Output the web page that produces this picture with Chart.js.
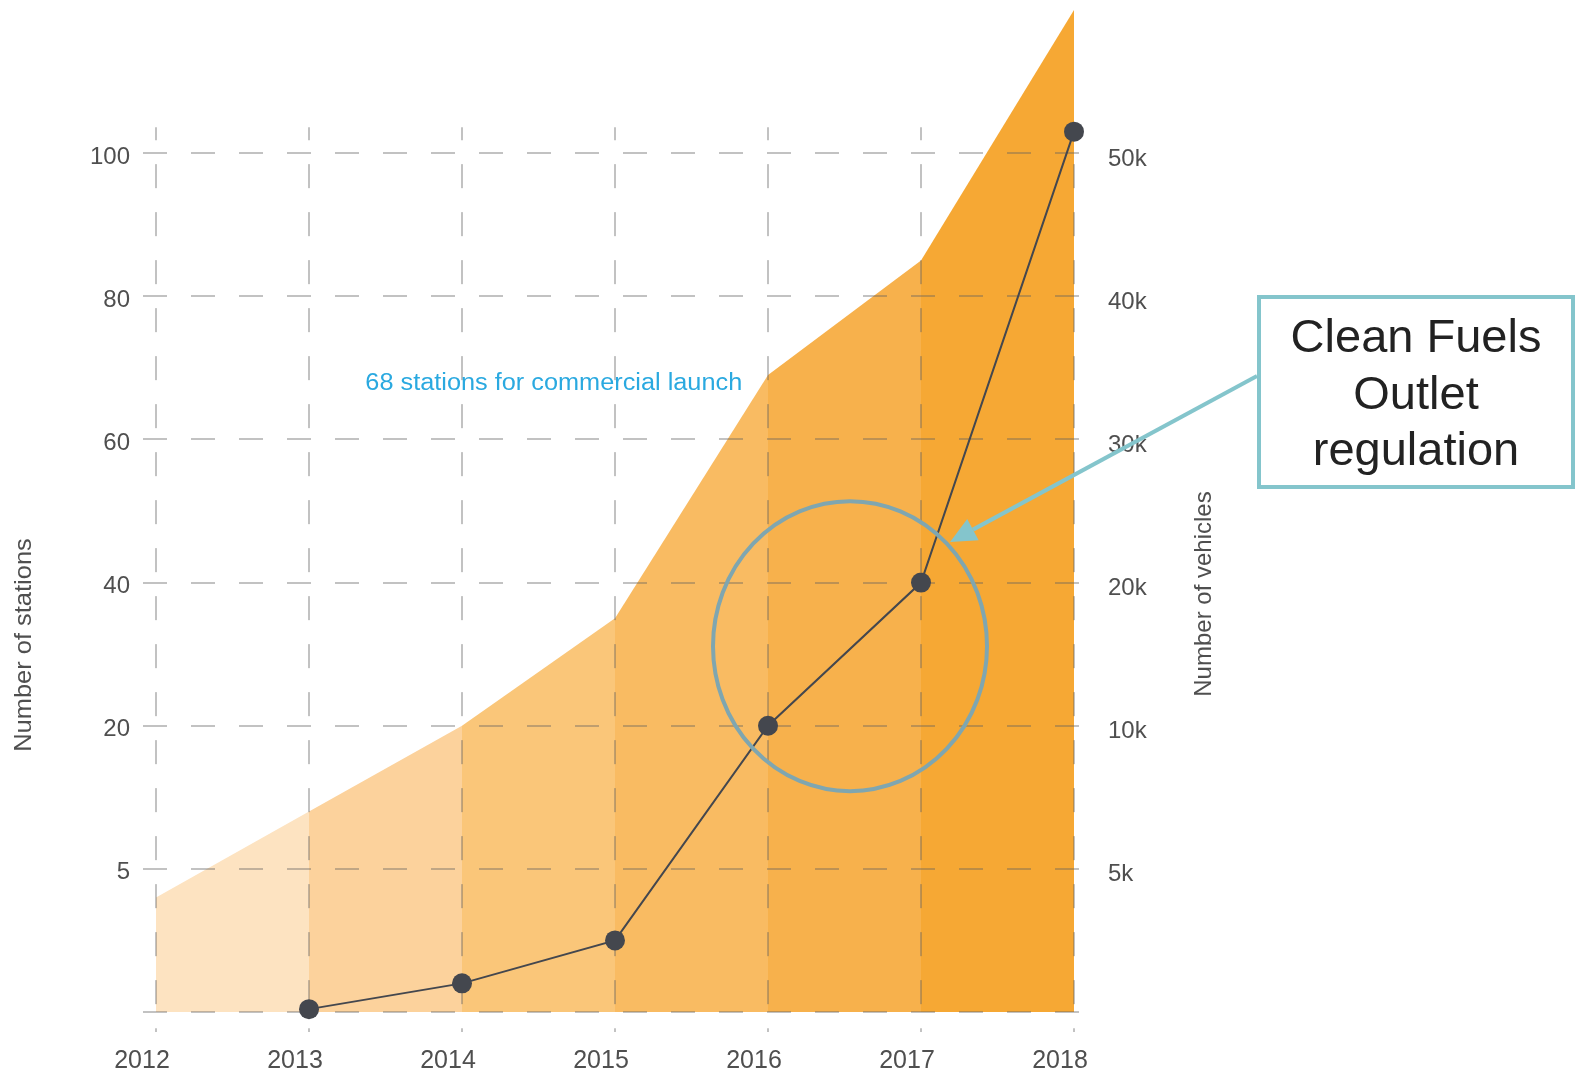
<!DOCTYPE html>
<html>
<head>
<meta charset="utf-8">
<title>Stations and vehicles 2012-2018</title>
<script src="https://cdn.jsdelivr.net/npm/chart.js@4.4.1/dist/chart.umd.min.js"></script>
<style>
  html, body { margin: 0; padding: 0; background: #fff; }
  #wrap { width: 1577px; height: 1074px; position: relative; }
</style>
</head>
<body>
<div id="wrap"><canvas id="chart"></canvas></div>
<script>
const years = ['2012', '2013', '2014', '2015', '2016', '2017', '2018'];
const stations = [4, 11, 20, 35, 69, 85, 120];
const vehicles = [null, 100, 1000, 2500, 10000, 20000, 51500];

const stationTicks = [0, 5, 20, 40, 60, 80, 100];
const vehicleTicks = [0, 5000, 10000, 20000, 30000, 40000, 50000];
const stationLabels = ['', '5', '20', '40', '60', '80', '100'];
const vehicleLabels = ['', '5k', '10k', '20k', '30k', '40k', '50k'];

const bandColors = ['#fde3c1', '#fcd29c', '#fac679', '#f9bb62', '#f7b14c', '#f6a834'];

const FONT = '"Liberation Sans", Arial, Helvetica, sans-serif';
const LABEL = '#4f4f4f';

// both y axes have evenly spaced ticks with uneven steps,
// so values are placed on a slot scale (0..6) between tick values
function toSlot(v, ticks) {
  if (v === null) return null;
  for (let i = 1; i < ticks.length; i++) {
    if (v <= ticks[i]) return i - 1 + (v - ticks[i - 1]) / (ticks[i] - ticks[i - 1]);
  }
  const n = ticks.length - 1;
  return n + (v - ticks[n]) / (ticks[n] - ticks[n - 1]);
}

// fixed axis sizes so the plot area lands where the original has it
function fixY(width) {
  return s => {
    s.width = width;
    s.paddingTop = 0;
    s.paddingBottom = 0;
  };
}

// dashed grid drawn on top of the orange area, under the vehicle line
const gridOverArea = {
  id: 'gridOverArea',
  afterDatasetDraw(chart, args) {
    if (args.index !== 1) return;
    const { ctx, chartArea: a, scales: { x, y } } = chart;
    ctx.save();
    ctx.strokeStyle = 'rgba(95,95,95,0.38)';
    ctx.lineWidth = 2;
    ctx.setLineDash([24, 24]);
    for (let i = 0; i < stationTicks.length; i++) {
      const py = Math.round(y.getPixelForValue(i));
      ctx.beginPath();
      ctx.moveTo(a.left - 13, py);
      ctx.lineTo(a.right + 18, py);
      ctx.stroke();
    }
    const top = y.getPixelForValue(6) - 26;
    ctx.lineDashOffset = 11;
    for (let i = 0; i < years.length; i++) {
      const px = Math.round(x.getPixelForValue(i));
      ctx.beginPath();
      ctx.moveTo(px, top);
      ctx.lineTo(px, a.bottom + 20);
      ctx.stroke();
    }
    ctx.restore();
  }
};

// axis titles, the launch note, the circle and the callout box
const notes = {
  id: 'notes',
  afterDraw(chart) {
    const { ctx, chartArea: a, scales: { x, y } } = chart;
    ctx.save();

    ctx.fillStyle = LABEL;
    ctx.font = '24px ' + FONT;
    ctx.textAlign = 'center';
    ctx.textBaseline = 'middle';
    ctx.save();
    ctx.translate(24, 645);
    ctx.rotate(-Math.PI / 2);
    ctx.scale(1.06, 1);
    ctx.fillText('Number of stations', 0, 0);
    ctx.restore();
    ctx.save();
    ctx.translate(a.right + 130, 594);
    ctx.rotate(-Math.PI / 2);
    ctx.fillText('Number of vehicles', 0, 0);
    ctx.restore();

    ctx.save();
    ctx.fillStyle = '#2aa9e0';
    ctx.font = '23px ' + FONT;
    ctx.translate(x.getPixelForValue(2.6), y.getPixelForValue(4.39));
    ctx.scale(1.1, 1);
    ctx.fillText('68 stations for commercial launch', 0, 0);
    ctx.restore();

    ctx.strokeStyle = '#7fa6b0';
    ctx.lineWidth = 4;
    ctx.beginPath();
    ctx.ellipse(x.getPixelForValue(4.536), y.getPixelForValue(2.556), 137, 145, 0, 0, Math.PI * 2);
    ctx.stroke();

    // callout
    const teal = '#84c5cc';
    const bx = a.right + 185, by = 297, bw = 314, bh = 190;
    ctx.strokeStyle = teal;
    ctx.lineWidth = 4;
    ctx.strokeRect(bx, by, bw, bh);

    const tipX = x.getPixelForValue(5.19), tipY = 542;
    const sx = bx - 2, sy = 376;
    const ang = Math.atan2(tipY - sy, tipX - sx);
    const len = 26, half = 12;
    const baseX = tipX - len * Math.cos(ang), baseY = tipY - len * Math.sin(ang);
    ctx.beginPath();
    ctx.moveTo(sx, sy);
    ctx.lineTo(baseX, baseY);
    ctx.stroke();
    ctx.fillStyle = teal;
    ctx.beginPath();
    ctx.moveTo(tipX, tipY);
    ctx.lineTo(baseX + half * Math.sin(ang), baseY - half * Math.cos(ang));
    ctx.lineTo(baseX - half * Math.sin(ang), baseY + half * Math.cos(ang));
    ctx.closePath();
    ctx.fill();

    ctx.fillStyle = '#222';
    ctx.font = '47px ' + FONT;
    ctx.textBaseline = 'alphabetic';
    const cx = bx + bw / 2;
    ctx.fillText('Clean Fuels', cx, 352);
    ctx.fillText('Outlet', cx, 409);
    ctx.fillText('regulation', cx, 465);

    ctx.restore();
  }
};

new Chart(document.getElementById('chart'), {
  type: 'line',
  data: {
    labels: years,
    datasets: [
      {
        label: 'Number of vehicles',
        data: vehicles.map(v => toSlot(v, vehicleTicks)),
        yAxisID: 'y2',
        order: 1,
        borderColor: '#44474e',
        borderWidth: 2,
        pointRadius: 10,
        pointBackgroundColor: '#44474e',
        pointBorderWidth: 0,
        tension: 0,
        clip: false
      },
      {
        label: 'Number of stations',
        data: stations.map(v => toSlot(v, stationTicks)),
        yAxisID: 'y',
        order: 2,
        fill: 'origin',
        borderWidth: 0,
        pointRadius: 0,
        backgroundColor: bandColors[0],
        segment: {
          backgroundColor: c => bandColors[c.p0DataIndex]
        }
      }
    ]
  },
  options: {
    responsive: true,
    maintainAspectRatio: false,
    animation: false,
    layout: { padding: { top: 5, left: 0, right: 0, bottom: 0 } },
    plugins: {
      legend: { display: false },
      tooltip: { enabled: false }
    },
    scales: {
      x: {
        grid: { display: false, drawTicks: false },
        border: { display: false },
        ticks: {
          color: LABEL,
          font: { size: 25, family: FONT },
          padding: 34,
          labelOffset: -14,
          maxRotation: 0,
          autoSkip: false
        },
        afterFit: s => {
          s.height = 62;
          s.paddingLeft = 0;
          s.paddingRight = 0;
        }
      },
      y: {
        position: 'left',
        min: 0,
        max: 7,
        grid: { display: false, drawTicks: false },
        border: { display: false },
        ticks: {
          stepSize: 1,
          color: LABEL,
          font: { size: 24, family: FONT },
          padding: 26,
          labelOffset: 4,
          callback: v => stationLabels[v] ?? ''
        },
        afterFit: fixY(156)
      },
      y2: {
        position: 'right',
        min: 0,
        max: 7,
        grid: { display: false, drawTicks: false },
        border: { display: false },
        ticks: {
          stepSize: 1,
          color: LABEL,
          font: { size: 24, family: FONT },
          padding: 34,
          labelOffset: 6,
          callback: v => vehicleLabels[v] ?? ''
        },
        afterFit: fixY(503)
      }
    }
  },
  plugins: [gridOverArea, notes]
});
</script>
</body>
</html>
